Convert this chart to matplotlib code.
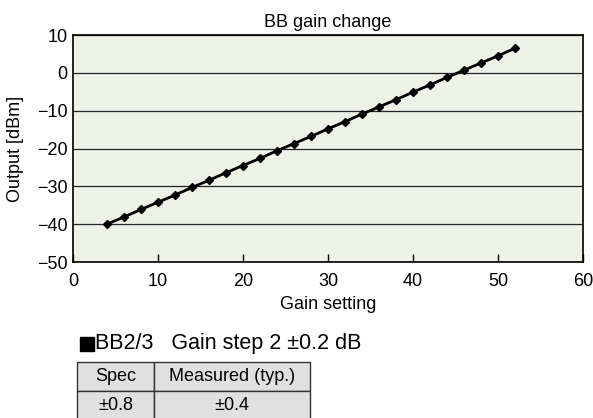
#!/usr/bin/env python3
"""BB gain change: output power vs gain setting, with the spec table below."""

import matplotlib
matplotlib.use("Agg")
import matplotlib.pyplot as plt
from matplotlib.patches import Rectangle

plt.rcParams["font.family"] = ["Liberation Sans", "DejaVu Sans"]
plt.rcParams["axes.unicode_minus"] = True

GAIN_SETTING = [4, 6, 8, 10, 12, 14, 16, 18, 20, 22, 24, 26, 28,
                30, 32, 34, 36, 38, 40, 42, 44, 46, 48, 50, 52]
OUTPUT_DBM = [-40.0, -38.1, -36.1, -34.2, -32.3, -30.3, -28.4, -26.4,
              -24.5, -22.6, -20.6, -18.7, -16.8, -14.8, -12.9, -10.9,
              -9.0, -7.1, -5.1, -3.2, -1.2, 0.7, 2.6, 4.5, 6.5]

TABLE_HEADER = ["Spec", "Measured (typ.)"]
TABLE_ROW = ["\u00b10.8", "\u00b10.4"]
NOTE = "BB2/3   Gain step 2 \u00b10.2 dB"

W, H = 593, 418
fig = plt.figure(figsize=(W / 100, H / 100), dpi=100)

ax = fig.add_axes([73 / W, 1 - 262 / H, 510 / W, 227 / H])
ax.set_facecolor("#eef2e6")
ax.plot(GAIN_SETTING, OUTPUT_DBM, color="black", linewidth=2.0,
        marker="D", markersize=4.5, markerfacecolor="black")
ax.set_xlim(0, 60)
ax.set_ylim(-50, 10)
ax.set_xticks(range(0, 61, 10))
ax.set_yticks(range(-50, 11, 10))
ax.grid(axis="y", color="#222222", linewidth=0.9)
ax.set_axisbelow(True)
ax.tick_params(axis="x", direction="in", length=6, width=1, labelsize=13, pad=8)
ax.tick_params(axis="y", length=0, labelsize=13, pad=4)
for spine in ax.spines.values():
    spine.set_linewidth(1.2)
ax.set_title("BB gain change", fontsize=13, pad=6)
ax.set_xlabel("Gain setting", fontsize=13, labelpad=4)
ax.set_ylabel("Output [dBm]", fontsize=13, labelpad=9)

# note line with black square bullet
fig.patches.append(Rectangle((80 / W, 1 - 351 / H), 14 / W, 14 / H,
                             transform=fig.transFigure, color="black"))
fig.text(95 / W, 1 - 344 / H, NOTE, fontsize=15.5, va="center", ha="left")

tax = fig.add_axes([77 / W, 1 - 420 / H, 233 / W, 58 / H])
tax.axis("off")
table = tax.table(cellText=[TABLE_HEADER, TABLE_ROW], colWidths=[77 / 233, 156 / 233],
                  cellLoc="center", bbox=[0, 0, 1, 1])
table.auto_set_font_size(False)
for cell in table.get_celld().values():
    cell.set_facecolor("#e0e0e0")
    cell.set_edgecolor("#333333")
    cell.set_linewidth(1.0)
    cell.get_text().set_fontsize(13)

fig.savefig("out.png", dpi=100)
